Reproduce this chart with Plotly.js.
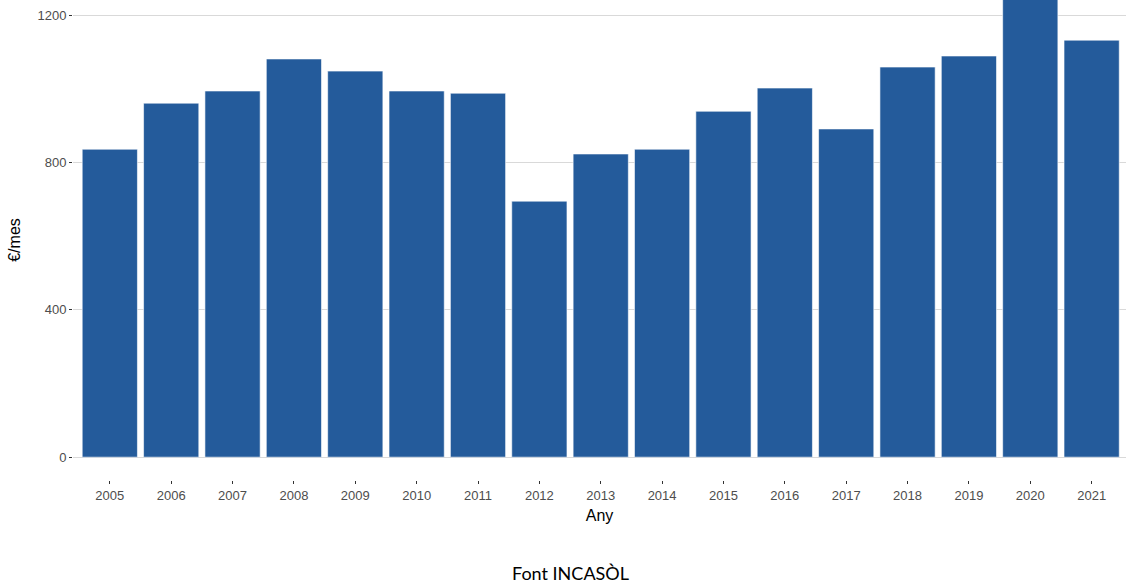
<!DOCTYPE html>
<html>
<head>
<meta charset="utf-8">
<script src="https://cdn.plot.ly/plotly-3.0.1.min.js"></script>
<style>html,body{margin:0;padding:0;background:#fff;}#chart{width:1126px;height:587px;}</style>
</head>
<body>
<div id="chart"></div>
<script>
const years = ["2005","2006","2007","2008","2009","2010","2011","2012","2013","2014","2015","2016","2017","2018","2019","2020","2021"];
const values = [836, 961, 994, 1081, 1048, 994, 988, 695, 823, 836, 939, 1002, 891, 1059, 1089, 1290, 1132];
const yTicks = [0, 400, 800, 1200];

const trace = {
  type: 'bar',
  x: years,
  y: values,
  width: 0.9,
  marker: {color: '#245b9b', line: {color: '#ffffff', width: 0.6}},
  hoverinfo: 'x+y'
};

const layout = {
  width: 1126,
  height: 587,
  margin: {l: 73, r: 0, t: 0, b: 107},
  paper_bgcolor: '#ffffff',
  plot_bgcolor: '#ffffff',
  showlegend: false,
  font: {family: 'Liberation Sans, Arial, sans-serif', color: '#4d4d4d', size: 13},
  xaxis: {
    type: 'category',
    range: [-0.6, 16.56],
    showgrid: false,
    zeroline: false,
    showline: false,
    ticks: 'outside',
    ticklen: 3,
    tickcolor: '#333333',
    tickfont: {size: 13, color: '#4d4d4d'},
    title: {text: 'Any', font: {size: 16, color: '#000000'}, standoff: 8}
  },
  yaxis: {
    range: [-62, 1241],
    tickvals: yTicks,
    ticktext: yTicks.map(String),
    showgrid: true,
    gridcolor: '#d9d9d9',
    gridwidth: 1,
    zeroline: false,
    showline: false,
    ticks: 'outside',
    ticklen: 3,
    tickcolor: '#333333',
    tickfont: {size: 13, color: '#4d4d4d'},
    title: {text: '€/mes', font: {size: 16, color: '#000000'}, standoff: 12}
  },
  annotations: [{
    text: 'Font INCASÒL',
    xref: 'paper', yref: 'paper',
    x: 0.472, y: -0.194,
    xanchor: 'center', yanchor: 'middle',
    showarrow: false,
    font: {family: 'Lato, Open Sans, sans-serif', size: 18, color: '#000000'}
  }]
};

Plotly.newPlot('chart', [trace], layout, {displayModeBar: false, staticPlot: true});
</script>
</body>
</html>
